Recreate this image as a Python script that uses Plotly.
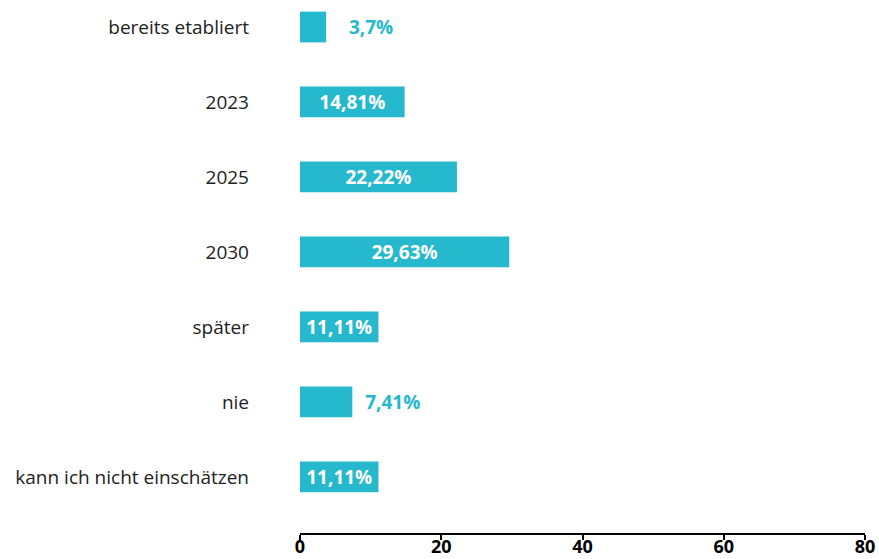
import plotly.graph_objects as go

categories = ["bereits etabliert", "2023", "2025", "2030", "später", "nie",
              "kann ich nicht einschätzen"]
values = [3.7, 14.81, 22.22, 29.63, 11.11, 7.41, 11.11]
labels = ["3,7%", "14,81%", "22,22%", "29,63%", "11,11%", "7,41%", "11,11%"]
text_pos = ["outside", "inside", "inside", "inside", "inside", "outside", "inside"]
x_ticks = [0, 20, 40, 60, 80]

teal = "#26b8cc"
font = "Open Sans"

# extra room between short bars and their outside labels
pad = [4, 0, 0, 0, 0, 2, 0]
bar_text = ["\u00a0" * n + t for n, t in zip(pad, labels)]

fig = go.Figure(go.Bar(
    x=values,
    y=categories,
    orientation="h",
    marker=dict(color=teal, line=dict(width=0)),
    text=bar_text,
    textposition=text_pos,
    insidetextanchor="middle",
    constraintext="none",
    cliponaxis=False,
    insidetextfont=dict(family=font, size=19, color="white", weight="bold"),
    outsidetextfont=dict(family=font, size=19, color=teal, weight="bold"),
    width=0.41,
))

fig.update_layout(
    width=879, height=559,
    margin=dict(l=300, r=14, t=0, b=26),
    plot_bgcolor="white", paper_bgcolor="white",
    showlegend=False,
    xaxis=dict(
        range=[0, 80], tickvals=x_ticks, showgrid=False, zeroline=False,
        showline=True, linecolor="black", linewidth=2,
        ticks="outside", ticklen=5, tickwidth=2, tickcolor="black",
        tickfont=dict(family=font, size=18, color="black", weight="bold"),
        ticklabelstandoff=-9,
        side="bottom", automargin=False,
    ),
    yaxis=dict(
        type="category", categoryorder="array", categoryarray=categories,
        range=[6.747, -0.36], showgrid=False, zeroline=False, showline=False,
        ticks="", ticklabelstandoff=50, automargin=False,
        tickfont=dict(family=font, size=19, color="#222222"),
    ),
)

fig.write_html("out.html")
